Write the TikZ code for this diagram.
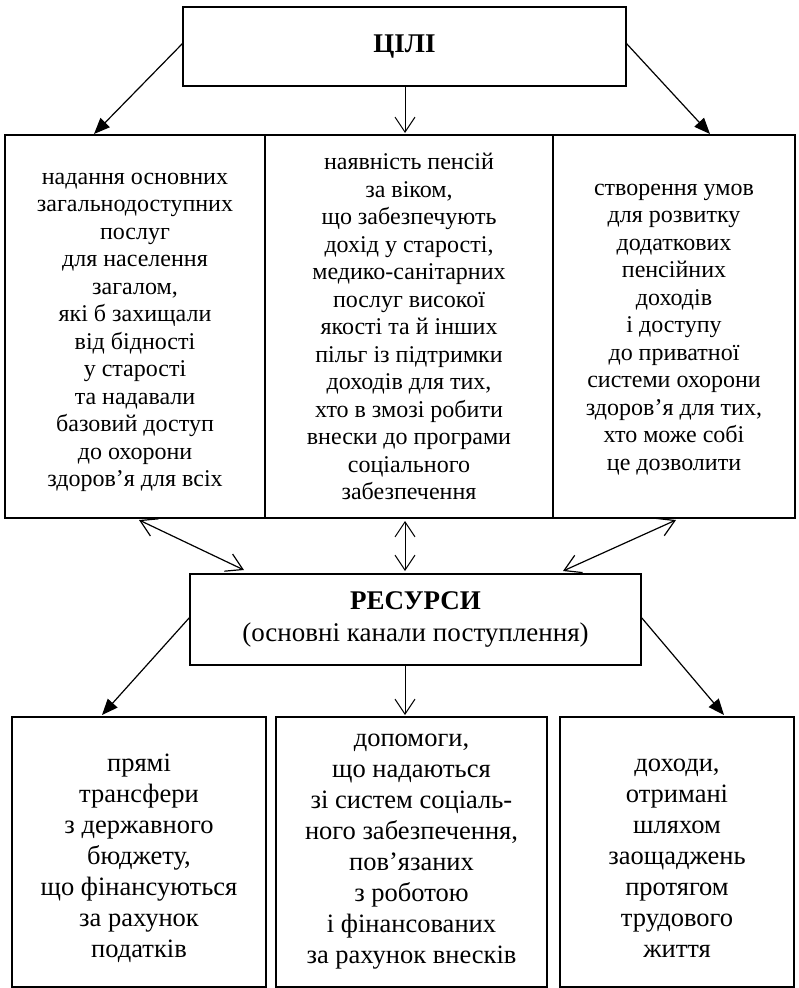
\documentclass[tikz,border=0pt]{standalone}
\usepackage{fontspec}
\setmainfont{Liberation Serif}
\usetikzlibrary{arrows.meta}
\begin{document}
\begin{tikzpicture}[x=1pt,y=-1pt,
  box/.style={draw,line width=1.5pt,rectangle,inner sep=0pt},
  txt/.style={inner sep=0pt,align=center},
  rowtext/.style={txt,font=\fontsize{24}{27.5}\selectfont},
  bottext/.style={txt,font=\fontsize{26.5}{31}\selectfont},
  solidarr/.style={line width=1.2pt,-{Triangle[length=16pt,width=13pt]}},
  openarr/.style={line width=1pt,-{Straight Barb[length=15pt,width=20pt]}},
  dblarr/.style={line width=1.2pt,{Straight Barb[length=16pt,width=19pt]}-{Straight Barb[length=16pt,width=19pt]}},
  dblvarr/.style={line width=1pt,{Straight Barb[length=15pt,width=20pt]}-{Straight Barb[length=15pt,width=20pt]}}
]
\useasboundingbox (0,0) rectangle (799,988);

% top box
\node[box,minimum width=443pt,minimum height=79pt,font=\fontsize{27}{30}\selectfont\bfseries] (goals) at (404.5,46.5) {ЦІЛІ};

% row 1
\node[box,minimum width=260pt,minimum height=383pt] (g1) at (135,326.5) {};
\node[box,minimum width=288pt,minimum height=383pt] (g2) at (409,326.5) {};
\node[box,minimum width=242pt,minimum height=383pt] (g3) at (674,326.5) {};
\node[rowtext] (g1t) at ([yshift=-6pt]g1.center)
{надання основних\\загальнодоступних\\послуг\\для населення\\загалом,\\які б захищали\\від бідності\\у старості\\та надавали\\базовий доступ\\до охорони\\здоров’я для всіх};
\node[rowtext] (g2t) at ([yshift=0pt]g2.center)
{наявність пенсій\\за віком,\\що забезпечують\\дохід у старості,\\медико-санітарних\\послуг високої\\якості та й інших\\пільг із підтримки\\доходів для тих,\\хто в змозі робити\\внески до програми\\соціального\\забезпечення};
\node[rowtext] (g3t) at ([yshift=-3pt]g3.center)
{створення умов\\для розвитку\\додаткових\\пенсійних\\доходів\\і доступу\\до приватної\\системи охорони\\здоров’я для тих,\\хто може собі\\це дозволити};

% resources
\node[box,align=center,minimum width=451pt,minimum height=91pt,font=\fontsize{27}{31.5}\selectfont] (res) at (415.5,619.5)
{\textbf{РЕСУРСИ}\\(основні канали поступлення)};

% bottom
\node[box,minimum width=254pt,minimum height=270pt] (s1) at (139,852) {};
\node[box,minimum width=271pt,minimum height=270pt] (s2) at (411.5,852) {};
\node[box,minimum width=234pt,minimum height=270pt] (s3) at (677,852) {};
\node[bottext] (s1t) at ([yshift=-6pt]s1.center)
{прямі\\трансфери\\з державного\\бюджету,\\що фінансуються\\за рахунок\\податків};
\node[bottext] (s2t) at ([yshift=0pt]s2.center)
{допомоги,\\що надаються\\зі систем соціаль-\\ного забезпечення,\\пов’язаних\\з роботою\\і фінансованих\\за рахунок внесків};
\node[bottext] (s3t) at ([yshift=-6pt]s3.center)
{доходи,\\отримані\\шляхом\\заощаджень\\протягом\\трудового\\життя};

% arrow end coordinates
\coordinate (gL) at (183,43);
\coordinate (gR) at (626,43);
\coordinate (t1) at (94,134);
\coordinate (t2) at (405,133);
\coordinate (t3) at (710,134);
\coordinate (a1) at (139,520);
\coordinate (b1) at (244,570);
\coordinate (a2) at (405,521);
\coordinate (b2) at (405,571);
\coordinate (a3) at (676,520);
\coordinate (b3) at (563,571);
\coordinate (rL) at (190,617);
\coordinate (rR) at (641,617);
\coordinate (u1) at (102,715);
\coordinate (u2) at (405,715);
\coordinate (u3) at (724,715);

\draw[solidarr] (gL) -- (t1);
\draw[openarr] (goals.south -| t2) -- (t2);
\draw[solidarr] (gR) -- (t3);

\draw[dblarr] (a1) -- (b1);
\draw[dblvarr] (a2) -- (b2);
\draw[dblarr] (a3) -- (b3);

\draw[solidarr] (rL) -- (u1);
\draw[openarr] (res.south -| u2) -- (u2);
\draw[solidarr] (rR) -- (u3);
\end{tikzpicture}
\end{document}
